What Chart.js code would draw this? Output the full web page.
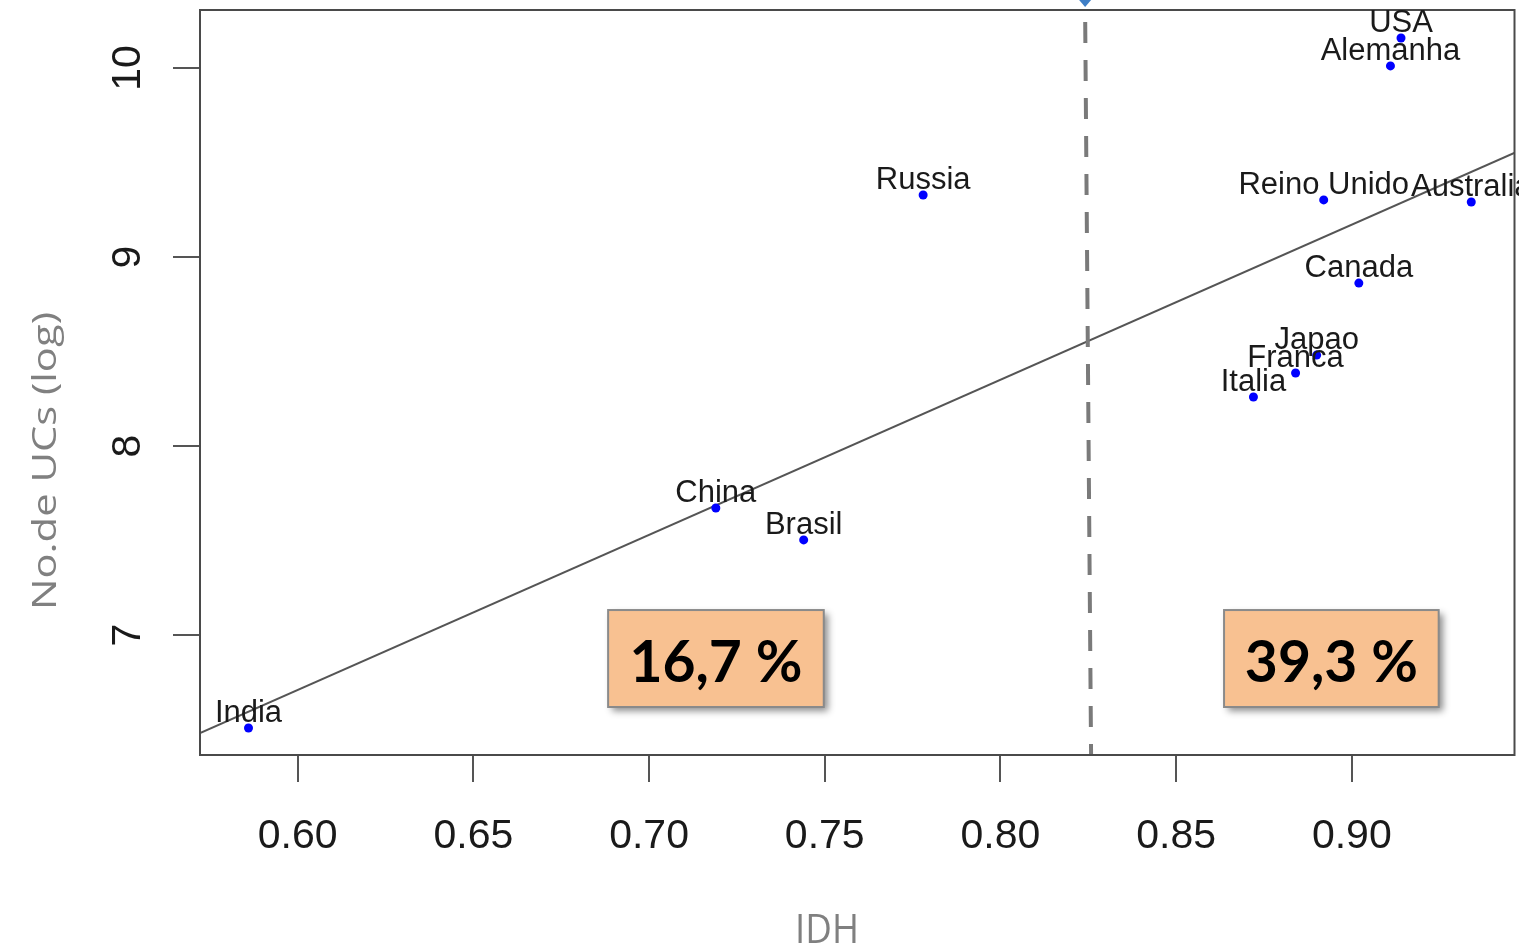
<!DOCTYPE html>
<html><head><meta charset="utf-8">
<script src="https://cdn.jsdelivr.net/npm/chart.js@4.4.0/dist/chart.umd.min.js"></script>
<style>html,body{margin:0;padding:0;background:#fff;overflow:hidden}
canvas{display:block}</style></head>
<body><canvas id="c" width="1519" height="949" style="width:1519px;height:949px"></canvas>
<script>
// ---- data ----
const countries = ["India","China","Brasil","Russia","Italia","Franca","Japao","Canada","Reino Unido","Australia","Alemanha","USA"];
const idh = [0.586,0.719,0.744,0.778,0.872,0.884,0.890,0.902,0.892,0.934,0.911,0.914];
const logUCs = [6.508,7.672,7.503,9.328,8.259,8.386,8.481,8.862,9.302,9.291,10.011,10.159];
const fitX = [0.5722,0.9469];
const fitY = [6.481,9.556];
const cutX = [0.8241,0.8258];
const cutY = [10.307,6.365];
const xTicks = [0.60,0.65,0.70,0.75,0.80,0.85,0.90];
const xTickLabels = ["0.60","0.65","0.70","0.75","0.80","0.85","0.90"];
const yTicks = [7,8,9,10];
const yTickLabels = ["7","8","9","10"];
const groupLabels = ["16,7 %","39,3 %"];
const xRange = [0.5722,0.9463];
const yRange = [6.365,10.307];

const points = idh.map((v,i)=>({x:v,y:logUCs[i]}));
const fitLine = fitX.map((v,i)=>({x:v,y:fitY[i]}));
const cutLine = cutX.map((v,i)=>({x:v,y:cutY[i]}));

// box placements in data coordinates (annotations)
const boxes = [
  {x0:0.68835,x1:0.74972,y0:7.132,y1:6.619,text:groupLabels[0]},
  {x0:0.86364,x1:0.92472,y0:7.132,y1:6.619,text:groupLabels[1]}
];

const decor = {
  id:'decor',
  afterDatasetsDraw(chart){
    const ctx = chart.ctx, a = chart.chartArea;
    const xs = chart.scales.x, ys = chart.scales.y;
    ctx.save();
    // plot frame
    ctx.strokeStyle = '#4a4a4a'; ctx.lineWidth = 2;
    ctx.strokeRect(a.left, a.top, a.right - a.left, a.bottom - a.top);
    // point labels
    ctx.font = '31px "Liberation Sans", Arial, sans-serif';
    ctx.fillStyle = '#1a1a1a'; ctx.textAlign = 'center'; ctx.textBaseline = 'alphabetic';
    const meta = chart.getDatasetMeta(0);
    meta.data.forEach((el,i)=>{ ctx.fillText(countries[i], el.x, el.y - 6); });
    // y tick labels (rotated, R style)
    ctx.font = '41px "Liberation Sans", Arial, sans-serif';
    yTicks.forEach((v,i)=>{
      const py = ys.getPixelForValue(v);
      ctx.save(); ctx.translate(140, py); ctx.rotate(-Math.PI/2);
      ctx.textAlign='center'; ctx.fillText(yTickLabels[i], 0, 0); ctx.restore();
    });
    // percentage boxes
    boxes.forEach(b=>{
      const x0 = xs.getPixelForValue(b.x0), x1 = xs.getPixelForValue(b.x1);
      const y0 = ys.getPixelForValue(b.y0), y1 = ys.getPixelForValue(b.y1);
      ctx.save();
      ctx.shadowColor = 'rgba(0,0,0,0.45)'; ctx.shadowBlur = 7; ctx.shadowOffsetX = 4; ctx.shadowOffsetY = 4;
      ctx.fillStyle = '#f8c191';
      ctx.fillRect(x0, y0, x1-x0, y1-y0);
      ctx.restore();
      ctx.strokeStyle = '#8a8a8a'; ctx.lineWidth = 2;
      ctx.strokeRect(x0, y0, x1-x0, y1-y0);
      ctx.fillStyle = '#000';
      ctx.font = 'bold 57px Lato, "Open Sans", sans-serif';
      ctx.textAlign = 'center'; ctx.textBaseline = 'alphabetic';
      ctx.fillText(b.text, (x0+x1)/2, y0 + 72);
    });
    // axis titles
    ctx.fillStyle = '#808080';
    ctx.font = '33px "Open Sans", sans-serif';
    let t = 'No.de UCs (log)';
    let w = ctx.measureText(t).width;
    ctx.save(); ctx.translate(56, 461); ctx.rotate(-Math.PI/2); ctx.scale(298/w, 1);
    ctx.textAlign='center'; ctx.textBaseline='alphabetic'; ctx.fillText(t, 0, 0); ctx.restore();
    ctx.font = '41px "Open Sans", sans-serif';
    t = 'IDH'; w = ctx.measureText(t).width;
    ctx.save(); ctx.translate(827, 943); ctx.scale(64/w, 1);
    ctx.textAlign='center'; ctx.fillText(t, 0, 0); ctx.restore();
    // arrow tip at top of the cut line
    const ax = xs.getPixelForValue(cutX[0]);
    ctx.fillStyle = '#3f7fc6';
    ctx.beginPath(); ctx.moveTo(ax-6, 0); ctx.lineTo(ax+6, 0); ctx.lineTo(ax, 7); ctx.closePath(); ctx.fill();
    ctx.restore();
  }
};

new Chart(document.getElementById('c'), {
  type: 'scatter',
  data: {
    datasets: [
      {data: points, backgroundColor:'#0000ff', borderColor:'#0000ff', pointRadius:4.5, pointBorderWidth:0, order:1},
      {type:'line', data: fitLine, borderColor:'#555', borderWidth:2, pointRadius:0, fill:false, order:2},
      {type:'line', data: cutLine, borderColor:'#7a7a7a', borderWidth:4, borderDash:[21,17], borderDashOffset:26, pointRadius:0, fill:false, order:0}
    ]
  },
  options: {
    responsive:false, animation:false, devicePixelRatio:1,
    layout:{padding:{left:0, top:10, right:1, bottom:0}},
    plugins:{legend:{display:false}, tooltip:{enabled:false}},
    scales:{
      x:{type:'linear', min:xRange[0], max:xRange[1],
         afterBuildTicks:s=>{s.ticks = xTicks.map(v=>({value:v}));},
         afterFit:s=>{s.height = 194;},
         border:{display:false},
         grid:{drawOnChartArea:false, drawTicks:true, tickLength:27, color:'#555', lineWidth:2},
         ticks:{autoSkip:false, maxRotation:0, padding:30, color:'#1a1a1a',
                font:{family:'"Liberation Sans", Arial, sans-serif', size:41},
                callback:(v,i)=>xTickLabels[i]}},
      y:{type:'linear', min:yRange[0], max:yRange[1],
         afterBuildTicks:s=>{s.ticks = yTicks.map(v=>({value:v}));},
         afterFit:s=>{s.width = 200;},
         border:{display:false},
         grid:{drawOnChartArea:false, drawTicks:true, tickLength:27, color:'#555', lineWidth:2},
         ticks:{display:false}}
    }
  },
  plugins:[decor]
});
</script></body></html>
